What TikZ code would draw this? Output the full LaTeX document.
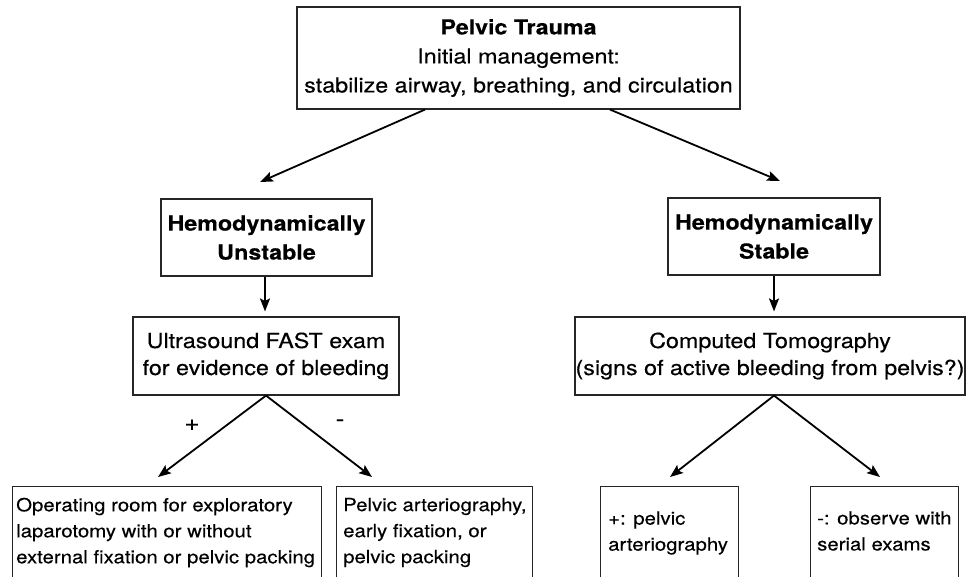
\documentclass[tikz,border=0pt]{standalone}
\usepackage{fontspec}
\setmainfont{TeX Gyre Heros}[FakeStretch=1.125, FakeBold=0.3]
\usetikzlibrary{arrows.meta}
\begin{document}
\begin{tikzpicture}[x=1pt,y=-1pt,
  box/.style={draw=black!85, line width=1.1pt, inner sep=0pt, align=center, text=black},
  big/.style={font=\fontsize{20.7}{29}\selectfont},
  mid/.style={font=\fontsize{20.7}{27}\selectfont},
  leafbox/.style={draw=black!85, line width=1.1pt, inner sep=0pt, anchor=north west, minimum height=110pt},
  leaftext/.style={anchor=west, inner sep=0pt, align=left, text=black, font=\fontsize{18.1}{26}\selectfont},
  arr/.style={draw=black, line width=1.8pt, -{Stealth[length=13pt,width=10pt,inset=2.5pt]}},
  sign/.style={inner sep=0pt, text=black, font=\fontsize{23}{26}\selectfont}]
\useasboundingbox (0,0) rectangle (968,576);
\clip (0,0) rectangle (968,576);

% main boxes
\node[box, big, minimum width=443pt, minimum height=102pt] (top) at (518.5,58)
  {\textbf{Pelvic Trauma}\\Initial management:\\stabilize airway, breathing, and circulation};
\node[box, big, minimum width=211pt, minimum height=77pt] (unstable) at (266.5,237.5)
  {\textbf{Hemodynamically}\\\textbf{Unstable}};
\node[box, big, minimum width=212pt, minimum height=77pt] (stable) at (774,236.5)
  {\textbf{Hemodynamically}\\\textbf{Stable}};
\node[box, mid, minimum width=266pt, minimum height=78pt] (us) at (266,356)
  {Ultrasound FAST exam\\for evidence of bleeding};
\node[box, mid, minimum width=390pt, minimum height=78pt] (ct) at (770,356)
  {Computed Tomography\\(signs of active bleeding from pelvis?)};

% outcome boxes (running off the lower edge)
\node[leafbox, minimum width=309pt] (bl1) at (12,486) {};
\node[leafbox, minimum width=196pt] (bl2) at (336,486) {};
\node[leafbox, minimum width=138pt] (br1) at (600,486) {};
\node[leafbox, minimum width=148pt] (br2) at (810,486) {};
\node[leaftext] (bl1t) at (16,532.5)
  {Operating room for exploratory\\laparotomy with or without\\external fixation or pelvic packing};
\node[leaftext] (bl2t) at (343,532.5)
  {Pelvic arteriography,\\early fixation, or\\pelvic packing};
\node[leaftext] (br1t) at (608,533) {+: pelvic\\arteriography};
\node[leaftext] (br2t) at (817,531) {-: observe with\\serial exams};

% arrow end points
\coordinate (tUL) at (260,182);
\coordinate (tUR) at (780,181);
\coordinate (tLL) at (158,477);
\coordinate (tLR) at (372,477);
\coordinate (tRL) at (670,477);
\coordinate (tRR) at (880,477);

% connectors
\draw[arr] ([xshift=-93.5pt]top.south) -- (tUL);
\draw[arr] ([xshift=91.5pt]top.south) -- (tUR);
\draw[arr, shorten >=5pt] ([xshift=-1.5pt]unstable.south) -- ([xshift=-1.5pt]unstable.south |- us.north);
\draw[arr, shorten >=5pt] (stable.south) -- (stable.south |- ct.north);
\draw[arr] (us.south) -- (tLL);
\draw[arr] (us.south) -- (tLR);
\draw[arr] ([xshift=4pt]ct.south) -- (tRL);
\draw[arr] ([xshift=4pt]ct.south) -- (tRR);

% branch signs
\node[sign] (plus) at (192,425) {+};
\node[sign] (minus) at (340,423) {-};
\end{tikzpicture}
\end{document}
